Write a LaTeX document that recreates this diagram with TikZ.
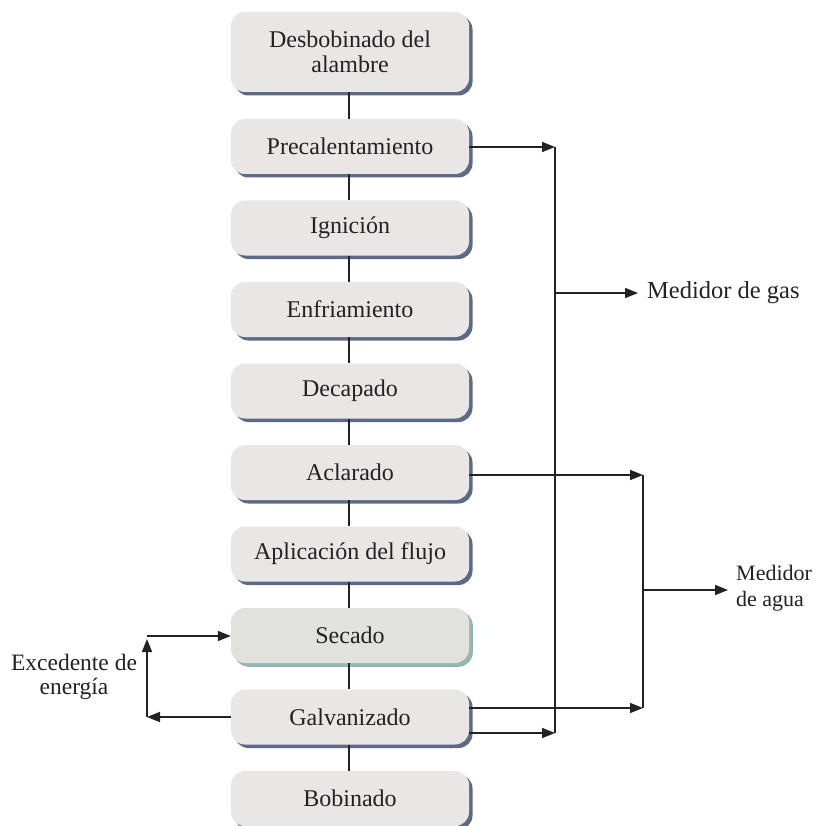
\documentclass[tikz,border=0pt]{standalone}
\usepackage{fontspec}
\setmainfont{Liberation Serif}
\usetikzlibrary{shadows,arrows.meta}
\definecolor{boxfill}{HTML}{E9E6E6}
\definecolor{boxshadow}{HTML}{5D6A85}
\definecolor{secfill}{HTML}{E1E2DE}
\definecolor{secshadow}{HTML}{93B8B0}
\definecolor{txt}{HTML}{222222}
\begin{document}
\begin{tikzpicture}[x=1pt,y=-1pt,
  every node/.style={text=txt},
  stepbox/.style={rounded corners=14pt, fill=boxfill, minimum width=238pt, minimum height=55pt,
    inner sep=0pt, align=center, font=\fontsize{24}{25}\selectfont,
    drop shadow={shadow xshift=3.5pt, shadow yshift=-3.5pt, fill=boxshadow, opacity=1}},
  secbox/.style={stepbox, fill=secfill,
    drop shadow={shadow xshift=3.5pt, shadow yshift=-3.5pt, fill=secshadow, opacity=1}},
  link/.style={line width=1.8pt, draw=txt},
  flow/.style={line width=1.6pt, draw=txt},
  arr/.style={flow, -{Triangle[length=13pt,width=10pt]}},
  lbl/.style={font=\fontsize{24.5}{25}\selectfont, inner sep=0pt}
]
\useasboundingbox (0,0) rectangle (815,826);
\node[stepbox, minimum height=80pt] (b1) at (350,52) {Desbobinado del\\alambre};
\node[stepbox] (b2) at (350,146.5) {Precalentamiento};
\node[stepbox] (b3) at (350,228) {Ignición};
\node[stepbox] (b4) at (350,309.5) {Enfriamiento};
\node[stepbox] (b5) at (350,391) {Decapado};
\node[stepbox] (b6) at (350,472.5) {Aclarado};
\node[stepbox] (b7) at (350,554) {Aplicación del flujo};
\node[secbox] (b8) at (350,635.5) {Secado};
\node[stepbox] (b9) at (350,717) {Galvanizado};
\node[stepbox] (b10) at (350,798.5) {Bobinado};
\foreach \a/\b in {b1/b2,b2/b3,b3/b4,b4/b5,b5/b6,b6/b7,b7/b8,b8/b9,b9/b10}
  \draw[link] ([xshift=-1pt]\a.south) -- ([xshift=-1pt]\b.north);

% gas collector
\coordinate (g1) at (555,147);
\coordinate (g2) at (555,733);
\coordinate (gm) at (555,293);
\coordinate (gm2) at (638,293);
\draw[arr] (b2.east |- g1) -- (g1);
\draw[flow] (g1) -- (g2);
\draw[arr] (gm) -- (gm2);
\node[lbl, anchor=west] (gas) at (647,293) {Medidor de gas};

% water collector
\coordinate (w1) at (643,475);
\coordinate (w2) at (643,708);
\coordinate (wm) at (643,590);
\coordinate (wm2) at (728,590);
\draw[arr] (b6.east |- w1) -- (w1);
\draw[flow] (w1) -- (w2);
\draw[arr] (wm) -- (wm2);
\node[lbl, anchor=west, align=left, font=\fontsize{22}{26}\selectfont] (agua) at (736,588) {Medidor\\de agua};

% galvanizado outputs
\draw[arr] (b9.east |- w2) -- (w2);
\draw[arr] (b9.east |- g2) -- (g2);

% energy loop
\coordinate (e1) at (147,717);
\coordinate (e2) at (147,639);
\coordinate (e3) at (147,636);
\draw[arr] (b9.west) -- (e1);
\draw[arr] (e1) -- (e2);
\draw[arr] (e3) -- (b8.west |- e3);
\node[lbl, align=center, font=\fontsize{23.5}{24.5}\selectfont] (exc) at (74,677) {Excedente de\\energía};
\end{tikzpicture}
\end{document}
